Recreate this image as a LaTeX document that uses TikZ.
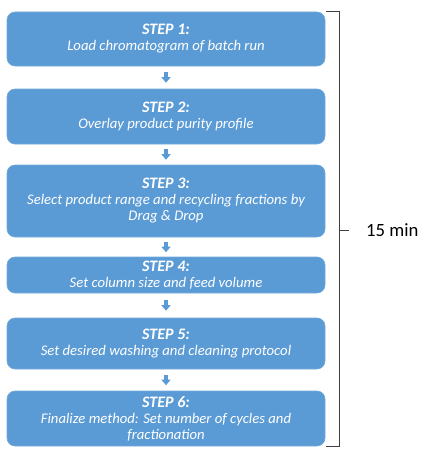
\documentclass[tikz,border=0pt]{standalone}
\usepackage{fontspec}
\setmainfont{Carlito}
\usetikzlibrary{arrows.meta,calc}
\definecolor{boxblue}{HTML}{5B9BD5}
\definecolor{brk}{HTML}{404040}
\newcommand{\stephead}[1]{{\fontsize{16}{16}\selectfont\bfseries #1}}
\begin{document}
\begin{tikzpicture}[x=1pt,y=-1pt,
  stepbox/.style={draw=boxblue!85!white, line width=0.6pt, fill=boxblue, rounded corners=8pt,
    minimum width=318pt, inner sep=0pt, text=white, align=center,
    font=\fontsize{14.7}{16}\selectfont\itshape},
  arr/.style={draw=boxblue, line width=3.6pt, -{Triangle[width=9pt,length=5.5pt]}},
  brace/.style={draw=brk, line width=0.9pt}]
\useasboundingbox (0,0) rectangle (423,452);
\node[stepbox, minimum height=54pt] (b1) at (166,39) {\stephead{STEP 1:}\\Load chromatogram of batch run};
\node[stepbox, minimum height=55pt] (b2) at (166,116.5) {\stephead{STEP 2:}\\Overlay product purity profile};
\node[stepbox, minimum height=72pt] (b3) at (166,201) {\stephead{STEP 3:}\\Select product range and recycling fractions by\\Drag \& Drop};
\node[stepbox, minimum height=36pt] (b4) at (166,275) {\stephead{STEP 4:}\\Set column size and feed volume};
\node[stepbox, minimum height=51pt] (b5) at (166,343.5) {\stephead{STEP 5:}\\Set desired washing and cleaning protocol};
\node[stepbox, minimum height=55pt] (b6) at (166,418.5) {\stephead{STEP 6:}\\Finalize method: Set number of cycles and\\fractionation};
\draw[arr, shorten <=6pt, shorten >=6pt] (b1.south) -- (b2.north);
\draw[arr, shorten <=5pt, shorten >=5pt] (b2.south) -- (b3.north);
\draw[arr, shorten <=4.5pt, shorten >=4.5pt] (b3.south) -- (b4.north);
\draw[arr, shorten <=7pt, shorten >=7pt] (b4.south) -- (b5.north);
\draw[arr, shorten <=5.5pt, shorten >=5.5pt] (b5.south) -- (b6.north);
\coordinate (bt) at (326,11);
\coordinate (bb) at (326,446);
\coordinate (tk) at (339,230);
\node[anchor=west, inner sep=0pt, font=\fontsize{18.7}{21}\selectfont] (lbl) at (366,230) {15 min};
\draw[brace] (bt) -- (339,11) -- (339,446) -- (bb);
\draw[brace] (tk) -- (349,230);
\end{tikzpicture}
\end{document}
